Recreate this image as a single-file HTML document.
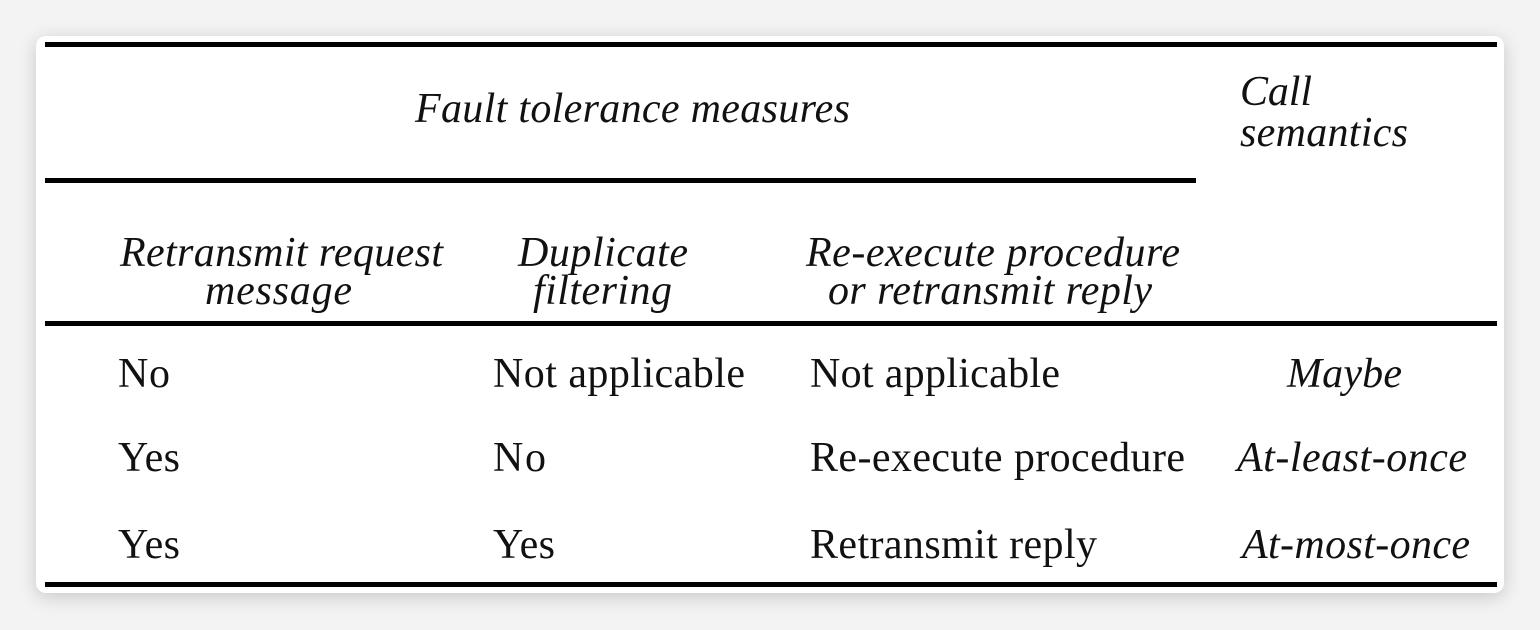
<!DOCTYPE html>
<html><head><style>
html,body{margin:0;padding:0;background:#f3f3f3;width:1540px;height:630px;overflow:hidden}
.card{position:absolute;left:36px;top:36px;width:1468px;height:557px;background:#fff;border-radius:10px;box-shadow:0 4px 18px rgba(0,0,0,0.18)}
svg{position:absolute;left:0;top:0}
text{font-family:"Liberation Serif",serif;fill:#111}
.i{font-style:italic;font-size:42px}
.r{font-size:42px}
</style></head><body>
<div class="card"></div>
<svg width="1540" height="630">
<g fill="#000">
<rect x="45" y="42" width="1452" height="5"/>
<rect x="45" y="178" width="1151" height="5"/>
<rect x="45" y="321" width="1452" height="5"/>
<rect x="45" y="582" width="1452" height="5"/>
</g>
<text class="i" x="415" y="122" textLength="435">Fault tolerance measures</text>
<text class="i" x="1240" y="105" textLength="72">Call</text>
<text class="i" x="1240" y="146" textLength="168">semantics</text>
<text class="i" x="120" y="266" textLength="323">Retransmit request</text>
<text class="i" x="205" y="304" textLength="147">message</text>
<text class="i" x="518" y="266" textLength="170">Duplicate</text>
<text class="i" x="533" y="304" textLength="139">filtering</text>
<text class="i" x="806" y="266" textLength="374">Re-execute procedure</text>
<text class="i" x="828" y="304" textLength="324">or retransmit reply</text>
<text class="r" x="118" y="387" textLength="52">No</text>
<text class="r" x="493" y="387" textLength="252">Not applicable</text>
<text class="r" x="810" y="387" textLength="250">Not applicable</text>
<text class="i" x="1287" y="387" textLength="115">Maybe</text>
<text class="r" x="118" y="471" textLength="62">Yes</text>
<text class="r" x="493" y="471" textLength="53">No</text>
<text class="r" x="810" y="471" textLength="375">Re-execute procedure</text>
<text class="i" x="1237" y="471" textLength="230">At-least-once</text>
<text class="r" x="118" y="558" textLength="62">Yes</text>
<text class="r" x="493" y="558" textLength="62">Yes</text>
<text class="r" x="810" y="558" textLength="287">Retransmit reply</text>
<text class="i" x="1242" y="558" textLength="228">At-most-once</text>
</svg>
</body></html>
